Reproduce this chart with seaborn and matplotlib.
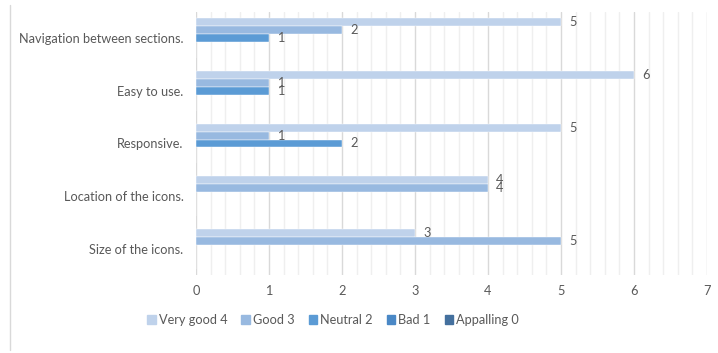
import pandas as pd
import seaborn as sns
import matplotlib.pyplot as plt
from matplotlib.lines import Line2D
from matplotlib.ticker import MultipleLocator

# values
aspects = ["Navigation between sections.", "Easy to use.", "Responsive.",
           "Location of the icons.", "Size of the icons."]
ratings = ["Very good 4", "Good 3", "Neutral 2", "Bad 1", "Appalling 0"]
very_good = [5, 6, 5, 4, 3]
good = [2, 1, 1, 4, 5]
neutral = [1, 1, 2, 0, 0]
bad = [0, 0, 0, 0, 0]
appalling = [0, 0, 0, 0, 0]
colors = ["#bfd2eb", "#98b9e0", "#5b9bd5", "#4a88c6", "#44709e"]

rows = []
for name, vals in zip(ratings, [very_good, good, neutral, bad, appalling]):
    for a, v in zip(aspects, vals):
        rows.append({"aspect": a, "rating": name, "count": v})
df = pd.DataFrame(rows)

sns.set_style("white")
plt.rcParams['font.family'] = ['Lato', 'DejaVu Sans']
txt = "#595959"
fs = 9.2

fig = plt.figure(figsize=(7.18, 3.53), dpi=100)
ax = fig.add_axes([196 / 718, 1 - 275 / 353, 511 / 718, 263 / 353])

sns.barplot(data=df, y="aspect", x="count", hue="rating", order=aspects,
            hue_order=ratings, palette=colors, orient="h", width=0.76,
            saturation=1, edgecolor="white", linewidth=0.3, ax=ax, legend=False)

for cont in ax.containers:
    labels = [f"{v:g}" if v > 0 else "" for v in cont.datavalues]
    ax.bar_label(cont, labels=labels, padding=6, fontsize=fs, color=txt)

ax.set_xlim(0, 7)
ax.set_ylim(4.5, -0.5)
ax.xaxis.set_major_locator(MultipleLocator(1))
ax.xaxis.set_minor_locator(MultipleLocator(0.2))
ax.grid(axis="x", which="major", color="#d9d9d9", linewidth=1)
ax.grid(axis="x", which="minor", color="#efefef", linewidth=1)
ax.set_axisbelow(True)
for s in ax.spines.values():
    s.set_visible(False)
ax.set_xlabel("")
ax.set_ylabel("")
ax.tick_params(axis="x", which="both", length=0, labelsize=fs, labelcolor=txt, pad=7)
ax.tick_params(axis="y", length=0, labelsize=fs, labelcolor=txt, pad=9)

handles = [plt.Rectangle((0, 0), 1, 1, color=c) for c in colors]
fig.legend(handles, ratings, loc="center", bbox_to_anchor=(333 / 718, 1 - 320 / 353),
           ncol=5, frameon=False, fontsize=fs, labelcolor=txt, handlelength=0.65,
           handleheight=0.65, handletextpad=0.25, columnspacing=1.1)

fig.add_artist(Line2D([10 / 718, 10 / 718], [1 - 350 / 353, 1 - 5 / 353],
                      color="#d9d9d9", linewidth=1))

fig.savefig("out.png", dpi=100)
